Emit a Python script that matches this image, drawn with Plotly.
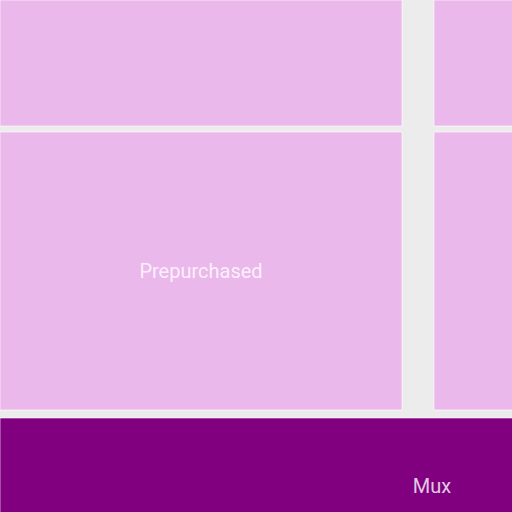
import plotly.graph_objects as go

# Hierarchy (ids / display labels / parents) and leaf values
node_ids = ["root", "all", "group", "left", "right",
            "left_top", "prepurchased", "right_top", "right_bottom", "mux"]
node_labels = ["", "", "", "", "",
               "", "Prepurchased", "", "", "Mux"]
node_parents = ["", "root", "all", "group", "group",
                "left", "left", "right", "right", "all"]
node_values = [0, 0, 0, 0, 0,
               137.7, 296.3, 130.1, 279.9, 286.7]

BG = "#ececec"
PINK = "#ebb8eb"
PURPLE = "#800080"

is_parent = [nid in node_parents for nid in node_ids]
colors = []
for nid, par in zip(node_ids, is_parent):
    if par:
        colors.append(BG)
    elif nid == "mux":
        colors.append(PURPLE)
    else:
        colors.append(PINK)
line_widths = [0 if p else 1 for p in is_parent]

fig = go.Figure(go.Treemap(
    ids=node_ids,
    labels=node_labels,
    parents=node_parents,
    values=node_values,
    sort=False,
    textinfo="label",
    textposition="middle center",
    textfont=dict(family="Roboto", size=20, color="rgba(255,255,255,0.8)"),
    marker=dict(colors=colors,
                line=dict(color="rgba(255,255,255,0.6)", width=line_widths),
                pad=dict(t=0, l=0, r=26, b=1),
                depthfade=False),
    root=dict(color=BG),
    tiling=dict(packing="slice-dice", pad=6),
    pathbar=dict(visible=False),
    hoverinfo="none",
))

fig.update_layout(
    width=916, height=556,
    margin=dict(l=0, r=0, t=0, b=0),
    paper_bgcolor=BG,
    plot_bgcolor=BG,
    font=dict(family="Roboto"),
    showlegend=False,
    hovermode=False,
)

fig.write_html(
    "out.html",
    config={"staticPlot": True},
    post_script="document.body.style.margin='0';document.body.style.overflow='hidden';",
)
